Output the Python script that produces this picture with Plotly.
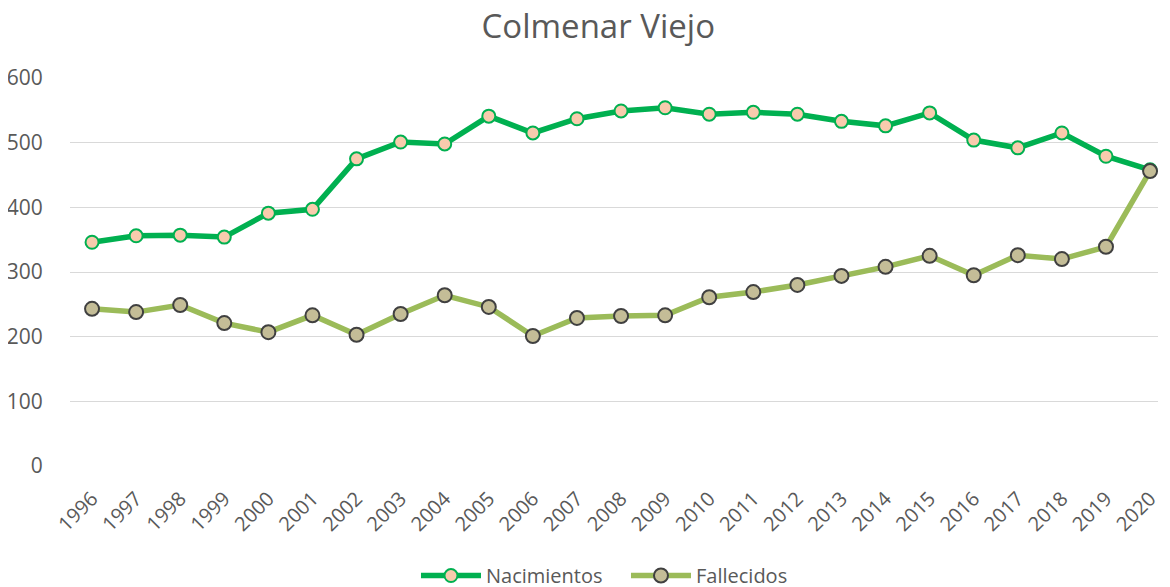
import plotly.graph_objects as go

years = [str(y) for y in range(1996, 2021)]
nacimientos = [346, 356, 357, 354, 391, 397, 475, 501, 498, 541, 515, 537, 549,
               554, 544, 547, 544, 533, 526, 546, 504, 492, 515, 479, 458]
fallecidos = [243, 238, 249, 221, 207, 233, 203, 235, 264, 246, 201, 229, 232,
              233, 261, 269, 280, 294, 308, 325, 295, 326, 320, 339, 456]
yticks = [0, 100, 200, 300, 400, 500, 600]

FONT = "Open Sans"
GREY = "#595959"

fig = go.Figure()
fig.add_trace(go.Scatter(
    x=years, y=nacimientos, name="Nacimientos", mode="lines+markers",
    line=dict(color="#00B050", width=5.5),
    marker=dict(size=13, color="#F8CBAD", line=dict(color="#00B050", width=2)),
    cliponaxis=False,
))
fig.add_trace(go.Scatter(
    x=years, y=fallecidos, name="Fallecidos", mode="lines+markers",
    line=dict(color="#9BBB59", width=5.5),
    marker=dict(size=14, color="#C4BD97", line=dict(color="#404040", width=2)),
    cliponaxis=False,
))

fig.update_layout(
    width=1162, height=579,
    paper_bgcolor="white", plot_bgcolor="white",
    margin=dict(l=62, r=12, t=70, b=121, autoexpand=False),
    title=dict(text="Colmenar Viejo", x=0.508, xanchor="center", y=0.968, yanchor="middle",
               xref="container", yref="container",
               font=dict(family=FONT, size=33, color=GREY)),
    font=dict(family=FONT, color=GREY),
    showlegend=True,
    legend=dict(orientation="h", x=0.318, xanchor="left", y=-0.232, yanchor="top",
                font=dict(family=FONT, size=20, color=GREY), itemwidth=60,
                entrywidth=135, entrywidthmode="pixels",
                traceorder="normal"),
    xaxis=dict(type="category", range=[-0.5, 24.18], tickangle=-45,
               showgrid=False, showline=False, zeroline=False,
               ticks="outside", ticklen=12, tickcolor="white", automargin=False,
               tickfont=dict(family=FONT, size=20, color=GREY)),
    yaxis=dict(range=[0, 600], tickvals=yticks, showgrid=True, gridcolor="#D9D9D9",
               gridwidth=1, zeroline=False, showline=False, ticks="outside",
               ticklen=22, tickcolor="white", automargin=False,
               tickfont=dict(family=FONT, size=21, color=GREY)),
)

fig.write_html("out.html")
